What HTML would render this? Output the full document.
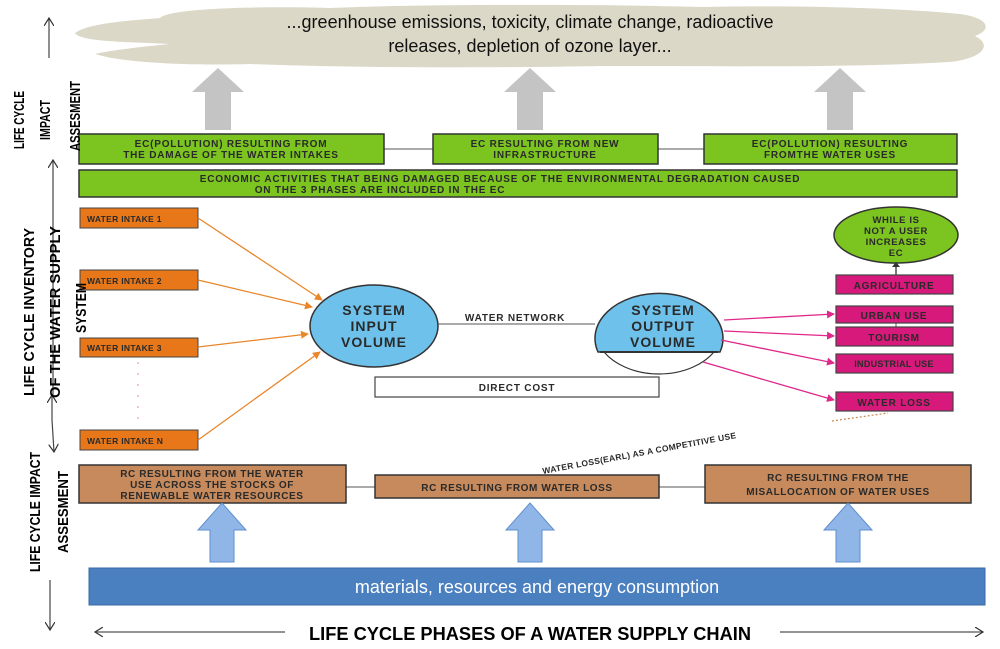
<!DOCTYPE html>
<html><head><meta charset="utf-8"><style>
html,body{margin:0;padding:0;background:#fff;}
svg{display:block;}
.b{font-family:"Liberation Sans",sans-serif;font-weight:bold;fill:#2a2a2a;}
.n{font-family:"Liberation Sans Narrow","Liberation Sans",sans-serif;font-weight:bold;fill:#000;}
</style></head><body>
<svg width="1000" height="649" viewBox="0 0 1000 649" xmlns="http://www.w3.org/2000/svg">
<defs>
<marker id="ao" markerWidth="8" markerHeight="8" refX="7" refY="4" orient="auto" markerUnits="userSpaceOnUse"><path d="M0,0 L8,4 L0,8z" fill="#e8862a"/></marker>
<marker id="ap" markerWidth="8" markerHeight="8" refX="7" refY="4" orient="auto" markerUnits="userSpaceOnUse"><path d="M0,0 L8,4 L0,8z" fill="#e0288a"/></marker>
<marker id="ak" markerWidth="10" markerHeight="10" refX="8" refY="5" orient="auto" markerUnits="userSpaceOnUse"><path d="M0,0 L8,5 L0,10" fill="none" stroke="#333" stroke-width="1.2"/></marker>
</defs>
<!-- cloud -->
<path d="M75,33 C90,22 140,20 160,18 C170,8 260,6 330,8 C420,4 600,4 700,7 C800,5 900,8 960,14 C990,18 992,30 975,36 C992,44 985,58 950,62 C850,68 700,66 600,66 C500,68 350,68 250,64 C180,66 120,62 95,54 C110,50 150,46 170,44 C130,42 80,42 75,33z" fill="#dcd8c8"/>
<text x="530" y="28" text-anchor="middle" font-family="'Liberation Sans',sans-serif" font-size="18" fill="#111">...greenhouse emissions, toxicity, climate change, radioactive</text>
<text x="530" y="52" text-anchor="middle" font-family="'Liberation Sans',sans-serif" font-size="18" fill="#111">releases, depletion of ozone layer...</text>
<!-- grey arrows -->
<g fill="#c4c4c4">
<path d="M205,130 V92 H192 L218,68 L244,92 H231 V130z"/>
<path d="M517,130 V92 H504 L530,68 L556,92 H543 V130z"/>
<path d="M827,130 V92 H814 L840,68 L866,92 H853 V130z"/>
</g>
<!-- green boxes -->
<line x1="384" y1="149" x2="433" y2="149" stroke="#555"/>
<line x1="658" y1="149" x2="704" y2="149" stroke="#555"/>
<g fill="#7cc420" stroke="#333" stroke-width="1.5">
<rect x="79" y="134" width="305" height="30"/>
<rect x="433" y="134" width="225" height="30"/>
<rect x="704" y="134" width="253" height="30"/>
<rect x="79" y="170" width="878" height="27"/>
</g>
<g class="b" font-size="10" letter-spacing="0.8" text-anchor="middle">
<text x="231" y="147">EC(POLLUTION) RESULTING FROM</text>
<text x="231" y="158">THE DAMAGE OF THE WATER INTAKES</text>
<text x="545" y="147">EC RESULTING FROM NEW</text>
<text x="545" y="158">INFRASTRUCTURE</text>
<text x="830" y="147">EC(POLLUTION) RESULTING</text>
<text x="830" y="158">FROMTHE WATER USES</text>
<text x="500" y="182">ECONOMIC ACTIVITIES THAT BEING DAMAGED BECAUSE OF THE ENVIRONMENTAL DEGRADATION CAUSED</text>
<text x="380" y="193">ON THE 3 PHASES ARE INCLUDED IN THE EC</text>
</g>
<!-- water intakes -->
<g fill="#e8771a" stroke="#444" stroke-width="1">
<rect x="80" y="208" width="118" height="20"/>
<rect x="80" y="270" width="118" height="20"/>
<rect x="80" y="338" width="118" height="19"/>
<rect x="80" y="430" width="118" height="20"/>
</g>
<g class="b" font-size="8.5" letter-spacing="0.3">
<text x="87" y="222">WATER INTAKE 1</text>
<text x="87" y="284">WATER INTAKE 2</text>
<text x="87" y="351">WATER INTAKE 3</text>
<text x="87" y="444">WATER INTAKE N</text>
</g>
<line x1="138" y1="362" x2="138" y2="428" stroke="#e88" stroke-dasharray="2,9"/>
<g stroke="#e8862a" stroke-width="1.3" fill="none" marker-end="url(#ao)">
<line x1="198" y1="218" x2="322" y2="300"/>
<line x1="198" y1="280" x2="312" y2="307"/>
<line x1="198" y1="347" x2="308" y2="334"/>
<line x1="198" y1="440" x2="320" y2="352"/>
</g>
<!-- input ellipse -->
<ellipse cx="374" cy="326" rx="64" ry="41" fill="#6ec1ea" stroke="#333" stroke-width="1.5"/>
<g class="b" font-size="14" text-anchor="middle" fill="#222" letter-spacing="1">
<text x="374" y="315">SYSTEM</text>
<text x="374" y="331">INPUT</text>
<text x="374" y="347">VOLUME</text>
</g>
<line x1="438" y1="324" x2="595" y2="324" stroke="#555"/>
<text x="515" y="321" class="b" font-size="10" text-anchor="middle" letter-spacing="0.8">WATER NETWORK</text>
<!-- output ellipse -->
<path d="M598,352 A64,45 0 1 1 720,352 Z" fill="#6ec1ea" stroke="#333" stroke-width="1.5"/>
<path d="M604,352 H714 A64,45 0 0 1 604,352 Z" fill="#fff" stroke="#333" stroke-width="1.2"/>
<line x1="600" y1="352" x2="718" y2="352" stroke="#333" stroke-width="2"/>
<g class="b" font-size="14" text-anchor="middle" fill="#222" letter-spacing="1">
<text x="663" y="315">SYSTEM</text>
<text x="663" y="331">OUTPUT</text>
<text x="663" y="347">VOLUME</text>
</g>
<rect x="375" y="377" width="284" height="20" fill="#fff" stroke="#444" stroke-width="1.2"/>
<text x="517" y="391" class="b" font-size="10" text-anchor="middle" letter-spacing="0.8">DIRECT COST</text>
<!-- pink arrows -->
<g stroke="#e0288a" stroke-width="1.3" fill="none" marker-end="url(#ap)">
<line x1="724" y1="320" x2="834" y2="314"/>
<line x1="724" y1="331" x2="834" y2="336"/>
<line x1="721" y1="340" x2="834" y2="363"/>
<line x1="703" y1="362" x2="834" y2="400"/>
</g>
<!-- right boxes -->
<ellipse cx="896" cy="235" rx="62" ry="28" fill="#7cc420" stroke="#333" stroke-width="1.5"/>
<g class="b" font-size="9.5" text-anchor="middle" letter-spacing="0.6">
<text x="896" y="223">WHILE IS</text>
<text x="896" y="234">NOT A USER</text>
<text x="896" y="245">INCREASES</text>
<text x="896" y="256">EC</text>
</g>
<line x1="896" y1="275" x2="896" y2="265" stroke="#333" stroke-width="1.3"/>
<path d="M892,267 L896,262 L900,267z" fill="#333"/>
<line x1="896" y1="323" x2="896" y2="327" stroke="#555"/>
<g fill="#d6197a" stroke="#444" stroke-width="1.2">
<rect x="836" y="275" width="117" height="19"/>
<rect x="836" y="306" width="117" height="17"/>
<rect x="836" y="327" width="117" height="19"/>
<rect x="836" y="354" width="117" height="19"/>
<rect x="836" y="392" width="117" height="19"/>
</g>
<g class="b" font-size="10" letter-spacing="0.8" text-anchor="middle">
<text x="894" y="289">AGRICULTURE</text>
<text x="894" y="319">URBAN USE</text>
<text x="894" y="341">TOURISM</text>
<text x="894" y="367" font-size="9" letter-spacing="0.3">INDUSTRIAL USE</text>
<text x="894" y="406">WATER LOSS</text>
</g>
<!-- water loss dotted -->
<line x1="832" y1="421" x2="888" y2="413" stroke="#c9874a" stroke-dasharray="2,2" stroke-width="1.2"/>
<text class="b" font-size="8.5" letter-spacing="0.3" transform="translate(543,474) rotate(-10.5)">WATER LOSS(EARL) AS A COMPETITIVE USE</text>
<!-- brown boxes -->
<line x1="346" y1="487" x2="375" y2="487" stroke="#555"/>
<line x1="659" y1="487" x2="705" y2="487" stroke="#555"/>
<g fill="#c68a5c" stroke="#333" stroke-width="1.5">
<rect x="79" y="465" width="267" height="38"/>
<rect x="375" y="475" width="284" height="23"/>
<rect x="705" y="465" width="266" height="38"/>
</g>
<g class="b" font-size="10" letter-spacing="0.6" text-anchor="middle">
<text x="212" y="477">RC RESULTING FROM THE WATER</text>
<text x="212" y="488">USE ACROSS THE STOCKS OF</text>
<text x="212" y="499">RENEWABLE WATER RESOURCES</text>
<text x="517" y="491">RC RESULTING FROM WATER LOSS</text>
<text x="838" y="481">RC RESULTING FROM THE</text>
<text x="838" y="495">MISALLOCATION OF WATER USES</text>
</g>
<!-- blue arrows -->
<g fill="#8fb6e6" stroke="#5f8fcf" stroke-width="1">
<path d="M210,562 V530 H198 L222,503 L246,530 H234 V562z"/>
<path d="M518,562 V530 H506 L530,503 L554,530 H542 V562z"/>
<path d="M836,562 V530 H824 L848,503 L872,530 H860 V562z"/>
</g>
<rect x="89" y="568" width="896" height="37" fill="#4a7fc0" stroke="#3a6aa8"/>
<text x="537" y="593" text-anchor="middle" font-family="'Liberation Sans',sans-serif" font-size="18" fill="#fff">materials, resources and energy consumption</text>
<!-- bottom -->
<line x1="285" y1="632" x2="95" y2="632" stroke="#555" stroke-width="1.3" marker-end="url(#ak)"/>
<line x1="780" y1="632" x2="983" y2="632" stroke="#555" stroke-width="1.3" marker-end="url(#ak)"/>
<text x="530" y="640" text-anchor="middle" class="n" font-size="18" textLength="442" lengthAdjust="spacingAndGlyphs">LIFE CYCLE PHASES OF A WATER SUPPLY CHAIN</text>
<!-- left axis arrows -->
<g stroke="#444" stroke-width="1.2" fill="none">
<line x1="49" y1="58" x2="49" y2="18" marker-end="url(#ak)"/>
<line x1="53" y1="395" x2="53" y2="160" marker-end="url(#ak)"/>
<line x1="52" y1="420" x2="52" y2="395" marker-end="url(#ak)"/>
<line x1="52" y1="420" x2="54" y2="452" marker-end="url(#ak)"/>
<line x1="50" y1="580" x2="50" y2="630" marker-end="url(#ak)"/>
</g>
<!-- left labels -->
<g class="n" font-size="15" text-anchor="middle" lengthAdjust="spacingAndGlyphs">
<text transform="translate(24,120) rotate(-90)" textLength="58" lengthAdjust="spacingAndGlyphs">LIFE CYCLE</text>
<text transform="translate(50,120) rotate(-90)" textLength="40" lengthAdjust="spacingAndGlyphs">IMPACT</text>
<text transform="translate(80,116) rotate(-90)" textLength="70" lengthAdjust="spacingAndGlyphs">ASSESMENT</text>
<text transform="translate(34,312) rotate(-90)" textLength="168" lengthAdjust="spacingAndGlyphs">LIFE CYCLE INVENTORY</text>
<text transform="translate(60,312) rotate(-90)" textLength="172" lengthAdjust="spacingAndGlyphs">OF THE WATER SUPPLY</text>
<text transform="translate(86,308) rotate(-90)" textLength="50" lengthAdjust="spacingAndGlyphs">SYSTEM</text>
<text transform="translate(40,512) rotate(-90)" textLength="120" lengthAdjust="spacingAndGlyphs">LIFE CYCLE IMPACT</text>
<text transform="translate(68,512) rotate(-90)" textLength="82" lengthAdjust="spacingAndGlyphs">ASSESMENT</text>
</g>
</svg>
</body></html>
